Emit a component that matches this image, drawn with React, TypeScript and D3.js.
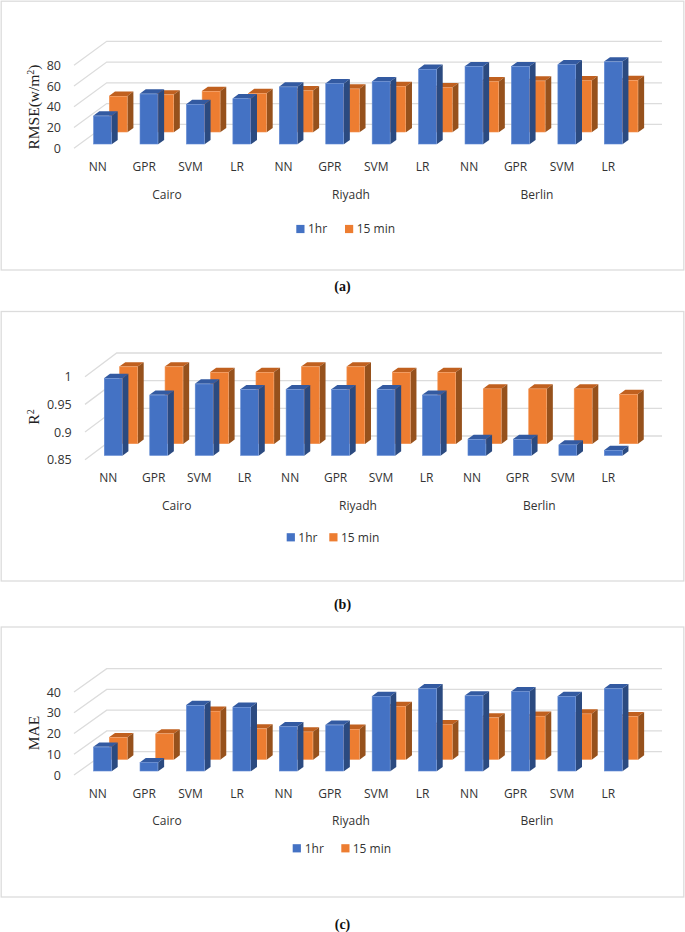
import React from "react";
import * as d3 from "d3";

const methods = ["NN", "GPR", "SVM", "LR", "NN", "GPR", "SVM", "LR", "NN", "GPR", "SVM", "LR"];
const cities = ["Cairo", "Riyadh", "Berlin"];
const seriesNames = ["1hr", "15 min"];

const rmseHour = [27.5, 48.7, 38.7, 44.2, 55.5, 58.7, 60.6, 72.6, 75.2, 75.2, 77, 79.7];
const rmseQuarter = [35, 36.4, 39.7, 37.7, 40.3, 42, 44.5, 43.2, 49, 49.7, 50, 50.3];
const rmseTicks = [0, 20, 40, 60, 80];

const r2Hour = [0.99, 0.96, 0.98, 0.97, 0.97, 0.97, 0.97, 0.96, 0.88, 0.88, 0.87, 0.86];
const r2Quarter = [0.99, 0.99, 0.98, 0.98, 0.99, 0.99, 0.98, 0.98, 0.95, 0.95, 0.95, 0.94];
const r2Ticks = [0.85, 0.9, 0.95, 1];

const maeHour = [11.8, 4.3, 31.9, 31, 21.6, 22.4, 36.2, 39.9, 36.5, 38.5, 36.2, 39.9];
const maeQuarter = [10.8, 12.6, 23.5, 15, 13.5, 14.8, 25.8, 17, 20.3, 21.1, 22.2, 20.9];
const maeTicks = [0, 10, 20, 30, 40];

const SANS = "'Open Sans', sans-serif";
const SERIF = "'Liberation Serif', serif";
const TEXT = "#333333";
const GRID = "#dcdcdc";
const BLUE = { front: "#4472c4", top: "#335aa1", side: "#2b4a80", edge: "#5f88d2" };
const ORANGE = { front: "#ed7d31", top: "#c0601f", side: "#96511c", edge: "#f29250" };

type Layout = {
  frame: [number, number];
  floorY: number; topY: number; backDy: number; frontX: number; backX: number;
  barX0: number; pitch: number; blueDrop: number; orangeDrop: number; orangeDx: number;
  tickRight: number; catX0: number; catY: number;
  groupY: number; groupX: number[];
  legendY: number; swatches: [number, number]; legendText: [number, number];
  titleY: number; captionY: number;
};

function Bar({ x, y, base, w, c }: { x: number; y: number; base: number; w: number; c: typeof BLUE }) {
  const dx = 6, dy = 4.4;
  const poly = (pts: number[][]) => pts.map((p) => p.join(",")).join(" ");
  return (
    <g>
      <polygon fill={c.top} points={poly([[x, y], [x + dx, y - dy], [x + w + dx, y - dy], [x + w, y]])} />
      <polygon fill={c.side} points={poly([[x + w, y], [x + w + dx, y - dy], [x + w + dx, base - dy], [x + w, base]])} />
      <rect x={x + 0.3} y={y + 0.3} width={w - 0.6} height={Math.max(0, base - y - 0.6)} fill={c.front} stroke={c.edge} strokeWidth={0.6} />
    </g>
  );
}

function Panel({ hour, quarter, ticks, title, caption, L }: {
  hour: number[]; quarter: number[]; ticks: number[];
  title: React.ReactNode; caption: string; L: Layout;
}) {
  const y = d3.scaleLinear().domain([ticks[0], ticks[ticks.length - 1]]).range([L.floorY, L.topY]);
  const x = d3.scaleLinear().domain([0, 1]).range([L.barX0, L.barX0 + L.pitch]);
  const cx = d3.scaleLinear().domain([0, 1]).range([L.catX0, L.catX0 + L.pitch]);
  const blueBase = L.floorY - L.blueDrop;
  const orangeBase = L.floorY - L.orangeDrop;
  return (
    <g>
      <rect x={1.2} y={L.frame[0]} width={682.6} height={L.frame[1] - L.frame[0]} fill="#fff" stroke={GRID} strokeWidth={1.3} />
      {ticks.map((t) => (
        <g key={t}>
          <polyline fill="none" stroke={GRID} strokeWidth={1.3}
            points={`${L.frontX},${y(t)} ${L.backX},${y(t) - L.backDy} 662,${y(t) - L.backDy}`} />
          <text x={L.tickRight} y={y(t)} dy="0.36em" textAnchor="end" fontFamily={SANS} fontSize={12.5} fill={TEXT}>{String(t)}</text>
        </g>
      ))}
      {quarter.map((v, i) => (
        <Bar key={i} x={x(i) + L.orangeDx} y={orangeBase - (L.floorY - y(v))} base={orangeBase} w={18.4} c={ORANGE} />
      ))}
      {hour.map((v, i) => (
        <Bar key={i} x={x(i)} y={blueBase - (L.floorY - y(v))} base={blueBase} w={18.4} c={BLUE} />
      ))}
      {methods.map((m, i) => (
        <text key={i} x={cx(i)} y={L.catY} dy="0.36em" textAnchor="middle" fontFamily={SANS} fontSize={12} fill={TEXT}>{m}</text>
      ))}
      {cities.map((c, i) => (
        <text key={c} x={L.groupX[i]} y={L.groupY} dy="0.36em" textAnchor="middle" fontFamily={SANS} fontSize={12} fill={TEXT}>{c}</text>
      ))}
      {seriesNames.map((s, i) => (
        <g key={s}>
          <rect x={L.swatches[i]} y={L.legendY - 4.1} width={8.2} height={8.2} fill={i === 0 ? BLUE.front : ORANGE.front} />
          <text x={L.legendText[i]} y={L.legendY} dy="0.36em" fontFamily={SANS} fontSize={12} fill={TEXT}>{s}</text>
        </g>
      ))}
      <text transform={`translate(38.5,${L.titleY}) rotate(-90)`} textAnchor="middle" fontFamily={SERIF} fontSize={15.5} fill="#222">{title}</text>
      <text x={342.5} y={L.captionY} dy="0.33em" textAnchor="middle" fontFamily={SERIF} fontSize={14} fontWeight={700} fill="#111">{caption}</text>
    </g>
  );
}

const layoutA: Layout = {
  frame: [1.2, 270], floorY: 148.3, topY: 65.3, backDy: 24, frontX: 74, backX: 106.7,
  barX0: 93.3, pitch: 46.43, blueDrop: 4, orangeDrop: 16, orangeDx: 15.7,
  tickRight: 61, catX0: 97.7, catY: 166.7, groupY: 195, groupX: [167, 351, 537],
  legendY: 229, swatches: [296.3, 345], legendText: [308, 356.7], titleY: 107, captionY: 286.5,
};
const layoutB: Layout = {
  frame: [311.5, 581], floorY: 459.7, topY: 376.7, backDy: 23.7, frontX: 85, backX: 116.7,
  barX0: 104, pitch: 45.46, blueDrop: 4, orangeDrop: 15.7, orangeDx: 15.3,
  tickRight: 71.7, catX0: 108.3, catY: 478, groupY: 505.3, groupX: [176.7, 358, 539.3],
  legendY: 537.3, swatches: [286.7, 329.3], legendText: [298.3, 341], titleY: 417, captionY: 604,
};
const layoutC: Layout = {
  frame: [627, 897], floorY: 775, topY: 692, backDy: 23.3, frontX: 74, backX: 106.7,
  barX0: 93.3, pitch: 46.43, blueDrop: 3.7, orangeDrop: 15.3, orangeDx: 15.7,
  tickRight: 61, catX0: 97.7, catY: 793.7, groupY: 821, groupX: [167, 351, 537],
  legendY: 848.3, swatches: [292.7, 341.3], legendText: [304.7, 352.7], titleY: 733, captionY: 924,
};

export default function App() {
  return (
    <svg width={685} height={932} viewBox="0 0 685 932" style={{ position: "absolute", left: 0, top: 0, background: "#fff" }}>
      <Panel hour={rmseHour} quarter={rmseQuarter} ticks={rmseTicks} L={layoutA} caption="(a)"
        title={<>RMSE(w/m<tspan dy="-5" fontSize={10}>2</tspan><tspan dy="5">)</tspan></>} />
      <Panel hour={r2Hour} quarter={r2Quarter} ticks={r2Ticks} L={layoutB} caption="(b)"
        title={<>R<tspan dy="-5" fontSize={10}>2</tspan></>} />
      <Panel hour={maeHour} quarter={maeQuarter} ticks={maeTicks} L={layoutC} caption="(c)"
        title="MAE" />
    </svg>
  );
}
